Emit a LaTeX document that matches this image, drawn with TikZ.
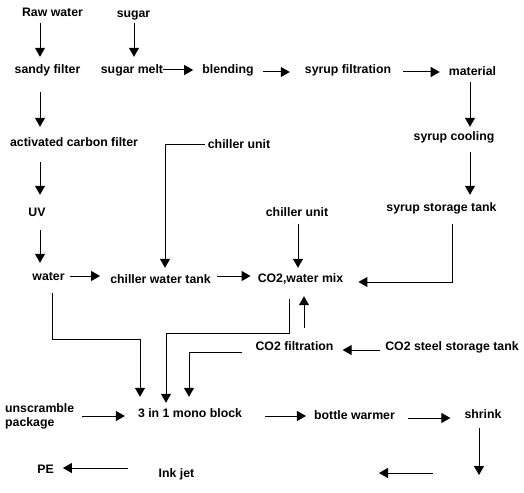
\documentclass[tikz,border=0pt]{standalone}
\usepackage{fontspec}
\setmainfont{Liberation Sans}
\usetikzlibrary{arrows.meta}
\begin{document}
\begin{tikzpicture}[x=1pt,y=-1pt,
  lab/.style={inner sep=0pt, text height=9pt, text depth=0pt, anchor=base, font=\fontsize{12.3}{14}\selectfont\bfseries},
  arr/.style={line width=1pt, -{Triangle[length=9pt,width=10pt]}}]
\useasboundingbox[fill=white] (0,0) rectangle (524,492);
% nodes
\node[lab] (raw) at (52.5,17) {Raw water};
\node[lab] (sugar) at (133.5,18) {sugar};
\node[lab] (sandy) at (47.5,74) {sandy filter};
\node[lab] (melt) at (132,74) {sugar melt};
\node[lab] (blending) at (228,74) {blending};
\node[lab] (syrupfilt) at (348,74) {syrup filtration};
\node[lab] (material) at (472.5,76) {material};
\node[lab] (cooling) at (454,140) {syrup cooling};
\node[lab] (carbon) at (74,146) {activated carbon filter};
\node[lab] (chiller1) at (239,148) {chiller unit};
\node[lab] (uv) at (37,216) {UV};
\node[lab] (chiller2) at (297,216) {chiller unit};
\node[lab] (storage) at (441.5,211) {syrup storage tank};
\node[lab] (water) at (48.5,280) {water};
\node[lab] (tank) at (160.5,283) {chiller water tank};
\node[lab] (mix) at (300.5,282) {CO2,water mix};
\node[lab] (filt) at (294.5,350) {CO2 filtration};
\node[lab] (steel) at (452,350) {CO2 steel storage tank};
\node[inner sep=0pt, anchor=west, align=left, font=\fontsize{12.3}{14}\selectfont\bfseries] (unscr) at (5,416) {unscramble\\package};
\node[lab] (mono) at (190,417) {3 in 1 mono block};
\node[lab] (bottle) at (354.5,419) {bottle warmer};
\node[lab] (shrink) at (483,418) {shrink};
\node[lab] (inkjet) at (176.5,477) {Ink jet};
\node[lab] (pe) at (45.5,473) {PE};
\coordinate (shrinkend) at (479,475);
\coordinate (ua) at (433,473);
\coordinate (ub) at (379,473);
% connectors
\draw[arr,shorten <=6pt,shorten >=8pt] (raw.south -| 40,0) -- (sandy.north -| 40,0);
\draw[arr,shorten <=5pt,shorten >=8pt] (sugar.south -| 134,0) -- (melt.north -| 134,0);
\draw[arr,shorten <=18pt,shorten >=10pt] (sandy.south -| 40,0) -- (carbon.north -| 40,0);
\draw[arr,shorten <=16pt,shorten >=12pt] (carbon.south -| 40,0) -- (uv.north -| 40,0);
\draw[arr,shorten <=14pt,shorten >=8pt] (uv.south -| 40,0) -- (water.north -| 40,0);
\draw[arr,shorten <=6pt,shorten >=4pt] (material.south -| 470,0) -- (cooling.north -| 470,0);
\draw[arr,shorten <=12pt,shorten >=7pt] (cooling.south -| 470,0) -- (storage.north -| 470,0);
\draw[arr,shorten <=8pt,shorten >=5pt] (chiller2.south -| 298,0) -- (mix.north -| 298,0);
\draw[arr,shorten >=9pt] (melt.east |- 0,70) -- (blending.west |- 0,70);
\draw[arr,shorten <=9pt,shorten >=15pt] (blending.east |- 0,72) -- (syrupfilt.west |- 0,72);
\draw[arr,shorten <=12pt,shorten >=9pt] (syrupfilt.east |- 0,72) -- (material.west |- 0,72);
\draw[arr,shorten <=5pt,shorten >=10pt] (water.east |- 0,276) -- (tank.west |- 0,276);
\draw[arr,shorten <=6pt,shorten >=7pt] (tank.east |- 0,276) -- (mix.west |- 0,276);
\draw[arr,shorten <=13pt,shorten >=15pt] (storage.south -| 452,0) |- (mix.east |- 0,282);
\draw[arr,shorten <=5pt,shorten >=9pt] (steel.west |- 0,350) -- (filt.east |- 0,350);
\draw[arr,shorten <=13pt,shorten >=14pt] (filt.north -| 304,0) -- (mix.south -| 304,0);
\draw[arr,shorten <=17pt,shorten >=5pt] (mix.south -| 289,0) -- ++(0,51) -| (mono.north -| 166,0);
\draw[arr,shorten <=13pt,shorten >=11pt] (filt.west |- 0,352) -| (mono.north -| 189,0);
\draw[arr,shorten <=13pt,shorten >=11pt] (water.south -| 52,0) -- ++(0,59) -| (mono.north -| 140,0);
\draw[arr,shorten <=3pt,shorten >=6pt] (chiller1.west |- 0,144) -| (tank.north -| 165,0);
\draw[arr,shorten <=8pt,shorten >=13pt] (unscr.east |- 0,416) -- (mono.west |- 0,416);
\draw[arr,shorten <=23pt,shorten >=8pt] (mono.east |- 0,416) -- (bottle.west |- 0,416);
\draw[arr,shorten <=13pt,shorten >=14pt] (bottle.east |- 0,418) -- (shrink.west |- 0,418);
\draw[arr,shorten <=10pt] (shrink.south -| 479,0) -- (shrinkend);
\draw[arr] (ua) -- (ub);
\draw[arr,shorten <=31pt,shorten >=9pt] (inkjet.west |- 0,468) -- (pe.east |- 0,468);
\end{tikzpicture}
\end{document}
